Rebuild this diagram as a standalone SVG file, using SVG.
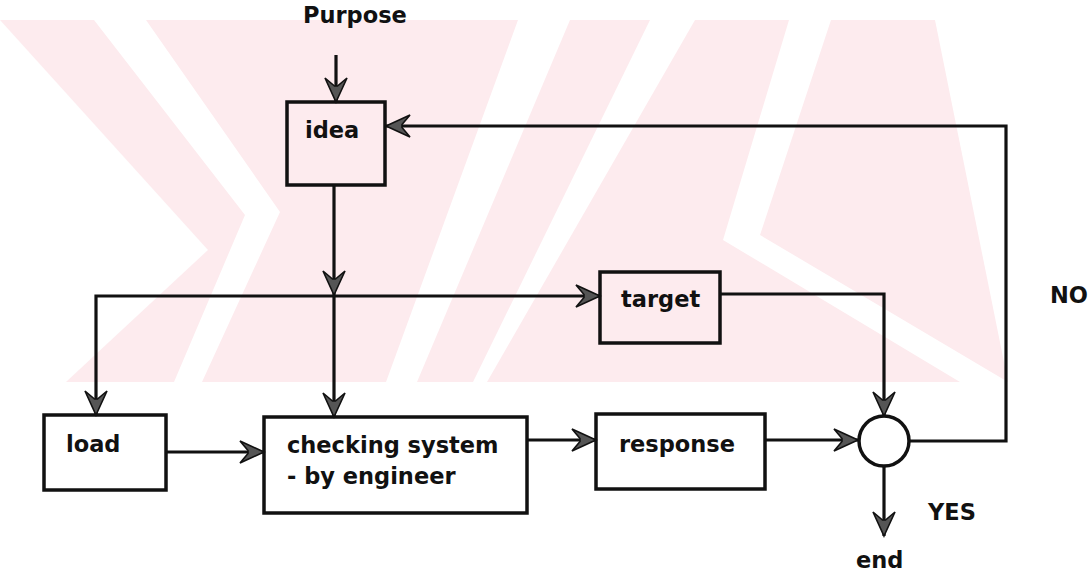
<svg xmlns="http://www.w3.org/2000/svg" width="1090" height="575" viewBox="0 0 1090 575">
  <defs>
    <style>
      .box { fill: none; stroke: #111; stroke-width: 3.5; }
      .lbl { font-family: "DejaVu Sans", "Liberation Sans", sans-serif; font-weight: bold; font-size: 22.5px; fill: #111; }
      .wire { fill: none; stroke: #111; stroke-width: 3.2; stroke-linejoin: miter; }
      .wm { fill: #fdebee; stroke: none; }
    </style>
    <marker id="arr" viewBox="-26 -13 28 26" refX="0" refY="0" markerWidth="28" markerHeight="26" markerUnits="userSpaceOnUse" orient="auto">
      <path d="M0,0 L-24,-11 L-16,-1.5 L-16,1.5 L-24,11 Z" fill="#555" stroke="#111" stroke-width="1.6" stroke-linejoin="miter"/>
    </marker>
  </defs>

  <g id="watermark">
    <path class="wm" d="M0,20 L1008,20 L1008,382 L0,382 Z"/>
    <g fill="#ffffff">
      <polygon points="0,20 208,250 66,382 0,382"/>
      <polygon points="94,20 146,20 280,212 202,382 174,382 245,215"/>
      <polygon points="518,20 570,20 417,382 386,382"/>
      <polygon points="650,20 695,20 487,382 473,382"/>
      <polygon points="789,20 831,20 760,235 1008,382 1008,382 960,382 723,240"/>
      <polygon points="935,20 1090,20 1090,382 1008,382"/>
    </g>
  </g>

  <g id="connectors">
    <path class="wire" d="M336,55 V102" marker-end="url(#arr)"/>
    <path class="wire" d="M334,185 V295" marker-end="url(#arr)"/>
    <path class="wire" d="M334,296 H600" marker-end="url(#arr)"/>
    <path class="wire" d="M334,296 H96 V415" marker-end="url(#arr)"/>
    <path class="wire" d="M334,296 V417" marker-end="url(#arr)"/>
    <path class="wire" d="M166,452 H264" marker-end="url(#arr)"/>
    <path class="wire" d="M527,440 H596" marker-end="url(#arr)"/>
    <path class="wire" d="M765,440 H858" marker-end="url(#arr)"/>
    <path class="wire" d="M720,294 H884 V416" marker-end="url(#arr)"/>
    <path class="wire" d="M884,466 V536" marker-end="url(#arr)"/>
    <path class="wire" d="M909,441 H1006 V126 H386" marker-end="url(#arr)"/>
  </g>

  <g id="purpose"><text class="lbl" x="303" y="23">Purpose</text></g>
  <g id="idea">
    <rect class="box" x="287" y="102" width="98" height="83"/>
    <text class="lbl" x="305" y="138">idea</text>
  </g>
  <g id="target">
    <rect class="box" x="600" y="272" width="120" height="71"/>
    <text class="lbl" x="621" y="307">target</text>
  </g>
  <g id="load">
    <rect class="box" x="44" y="415" width="122" height="75"/>
    <text class="lbl" x="66" y="452">load</text>
  </g>
  <g id="checking">
    <rect class="box" x="264" y="417" width="263" height="96"/>
    <text class="lbl" x="287" y="453">checking system</text>
    <text class="lbl" x="287" y="484">- by engineer</text>
  </g>
  <g id="response">
    <rect class="box" x="596" y="414" width="169" height="75"/>
    <text class="lbl" x="619" y="452">response</text>
  </g>
  <g id="decision">
    <circle class="box" cx="884" cy="441" r="25" fill="#fff"/>
  </g>
  <g id="no"><text class="lbl" x="1050" y="303">NO</text></g>
  <g id="yes"><text class="lbl" x="928" y="520">YES</text></g>
  <g id="end"><text class="lbl" x="856" y="568">end</text></g>
</svg>
